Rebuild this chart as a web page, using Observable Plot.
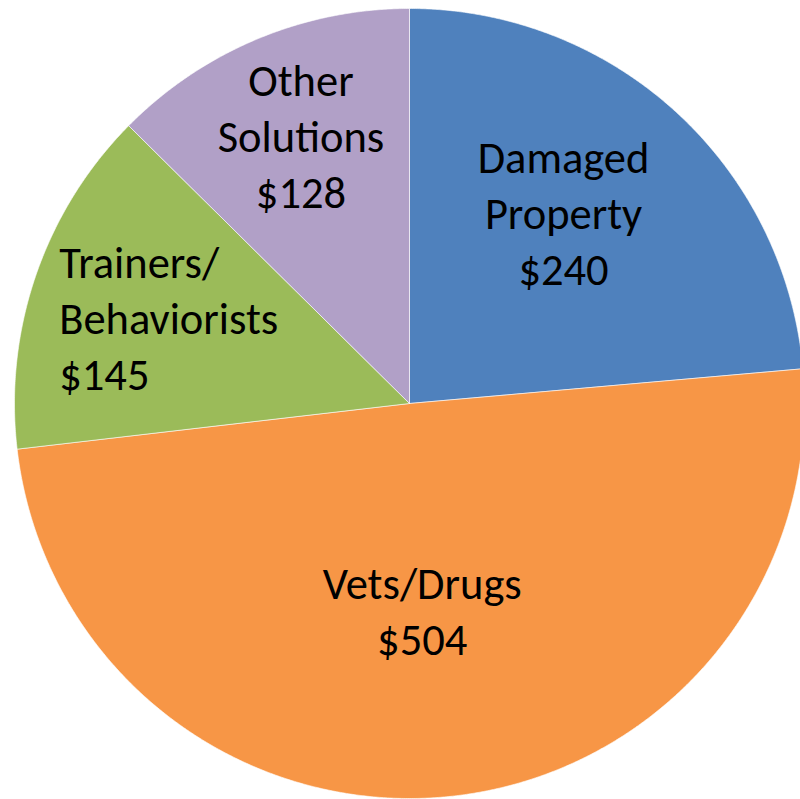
<!DOCTYPE html>
<html>
<head>
<meta charset="utf-8">
<script src="https://cdn.jsdelivr.net/npm/d3@7"></script>
<script src="https://cdn.jsdelivr.net/npm/@observablehq/plot@0.6"></script>
<style>
  html, body { margin: 0; padding: 0; background: #fff; }
  #chart svg { display: block; }
</style>
</head>
<body>
<div id="chart"></div>
<script>
// Data
const categories = ["Damaged Property", "Vets/Drugs", "Trainers/Behaviorists", "Other Solutions"];
const values = [240, 504, 145, 128];
const labelTexts = ["Damaged\nProperty\n$240", "Vets/Drugs\n$504", "Trainers/\nBehaviorists\n$145", "Other\nSolutions\n$128"];
const colors = ["#4F81BD", "#F79646", "#9BBB59", "#B1A0C7"];

// Layout helpers (pie geometry in unit-radius coordinates)
const W = 800, H = 799, R = 395, CX = 409, CY = 403;
const labelRadius = [0.615, 0.54, 0.63, 0.72];
const labelDx = [-10, -9, -115, 1];
const labelDy = [-13, -7, -6, -7];

const arcs = d3.pie().sort(null).value(d => d.value)(
  categories.map((c, i) => ({name: c, value: values[i], i}))
);

const slicePts = [];
arcs.forEach(a => {
  const name = a.data.name;
  slicePts.push({name, x: 0, y: 0});
  const n = Math.max(2, Math.ceil((a.endAngle - a.startAngle) / 0.005));
  for (let k = 0; k <= n; k++) {
    const t = a.startAngle + (a.endAngle - a.startAngle) * k / n;
    slicePts.push({name, x: Math.sin(t), y: Math.cos(t)});
  }
  slicePts.push({name, x: 0, y: 0});
});

const labels = arcs.map(a => {
  const m = (a.startAngle + a.endAngle) / 2;
  const i = a.data.i;
  const r = labelRadius[i];
  return {name: a.data.name, text: labelTexts[i], x: r * Math.sin(m), y: r * Math.cos(m), i, dx: labelDx[i], dy: labelDy[i]};
});

const font = "Carlito, Calibri, Lato, sans-serif";
const textOpts = {fill: "#000", fontSize: 44.5, lineHeight: 1.26, fontFamily: font};

const chart = Plot.plot({
  width: W,
  height: H,
  margin: 0,
  x: {domain: [-CX / R, (W - CX) / R], axis: null},
  y: {domain: [-(H - CY) / R, CY / R], axis: null},
  color: {domain: categories, range: colors},
  style: {background: "#fff"},
  marks: [
    Plot.line(slicePts, {x: "x", y: "y", z: "name", fill: "name", stroke: "#fff", strokeWidth: 0.6, curve: "linear"}),
    ...labels.map(d => Plot.text([d], {
      x: "x", y: "y", text: "text", dx: d.dx, dy: d.dy,
      textAnchor: d.i === 2 ? "start" : "middle", ...textOpts
    }))
  ]
});
document.getElementById("chart").append(chart);
</script>
</body>
</html>
